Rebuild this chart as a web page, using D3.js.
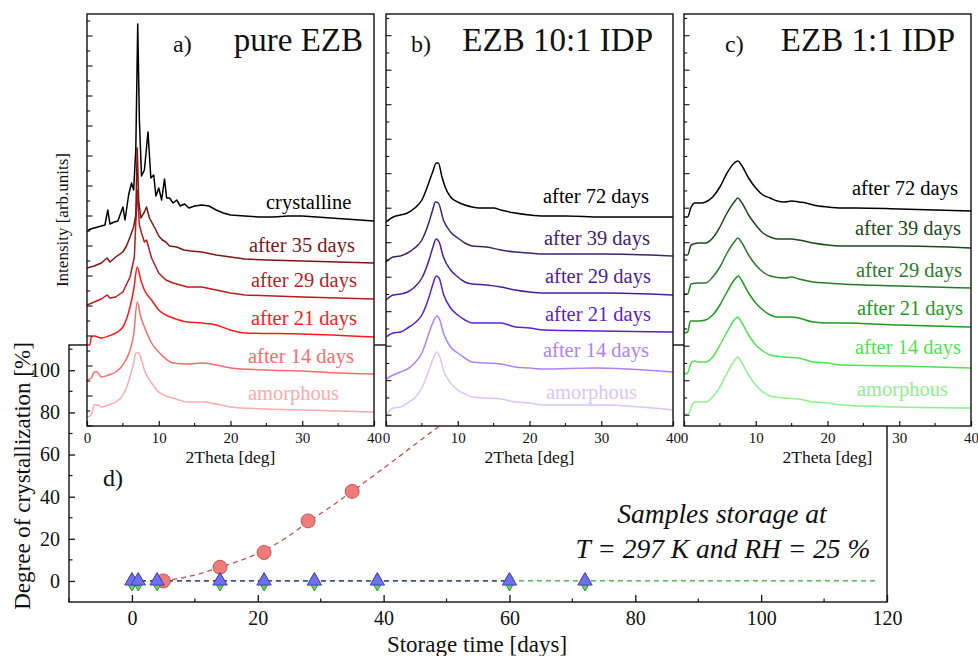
<!DOCTYPE html>
<html>
<head>
<meta charset="utf-8">
<script src="https://cdn.jsdelivr.net/npm/d3@7/dist/d3.min.js"></script>
<style>
  html, body { margin: 0; padding: 0; background: #fff; }
  svg { display: block; }
  svg text { font-family: "Liberation Serif", "Times New Roman", serif; }
</style>
</head>
<body>
<svg id="chart" width="978" height="656"></svg>
<script>
// ---------- XRD patterns: [2theta (deg), intensity (arb. units, stacked)] ----------
const twoThetaTicks = [0, 10, 20, 30, 40];

// a) pure EZB
const ezbCrystalline = [[0,195],[0.5,197],[1,198],[1.5,199],[2,200],[2.5,201],[2.9,216],[3.2,202],[3.8,204],[4.3,205],[4.6,211],[5.0,219],[5.3,206],[5.8,231],[6.2,243],[6.5,236],[6.8,276],[7.07,402],[7.3,306],[7.6,250],[8.0,256],[8.5,294],[8.9,248],[9.3,251],[9.6,230],[10.0,238],[10.4,226],[10.8,247],[11.1,228],[11.5,228],[12,223],[12.5,226],[13,220],[13.6,222],[14.2,218],[15,220],[16,221],[17,220],[18,216],[19,213],[20,211],[22,210],[24,209],[26,209],[28,210],[30,210],[32,209],[34,208],[36,207],[38,206],[40,205]];
const ezb35 = [[0,158],[1,160],[2,163],[2.8,168],[3.2,164],[4,169],[5,174],[5.5,180],[6,189],[6.5,199],[6.8,211],[7.0,278],[7.2,226],[7.5,208],[8.0,214],[8.3,219],[8.7,208],[9.0,204],[9.6,196],[10.0,190],[10.5,186],[11.0,184],[11.5,180],[12.5,179],[13.5,176],[14.5,175],[16,174],[18,171],[20,169],[22,167],[25,166],[30,165],[35,164],[40,163]];
const ezb29 = [[0,121],[1,124],[2,127],[2.8,131],[3.2,128],[4,129],[5,134],[6,149],[6.6,169],[7.0,236],[7.3,201],[7.6,193],[8.0,184],[8.3,186],[9,168],[10,153],[11,146],[12,143],[14,139],[16,139],[18,136],[20,133],[22,131],[30,129],[40,127]];
const ezb21 = [[0,81],[0.4,81],[0.6,89],[1,90],[2,88],[3,90],[4,93],[5,99],[6,119],[6.5,136],[7.0,159],[7.5,146],[8,136],[9,126],[10,116],[11,111],[12,108],[14,104],[16,103],[18,101],[20,96],[22,93],[30,92],[40,89]];
const ezb14 = [[0,46],[0.6,48],[1.0,54],[1.4,54],[2,49],[3,51],[4,54],[5,61],[6,76],[6.5,91],[7.0,124],[7.5,109],[8,99],[9,83],[10,74],[12,63],[14,62],[16,63],[18,61],[20,58],[25,56],[30,55],[35,53],[40,52]];
const ezbAmorphous = [[0,9],[0.6,11],[1.0,21],[1.5,21],[2,19],[3,21],[4,24],[5,31],[6,49],[6.5,63],[6.8,73],[7.2,73],[7.6,66],[8,56],[9,43],[10,34],[11,30],[12,28],[14,24],[16,24],[18,22],[20,19],[25,17],[30,16],[35,15],[40,14]];

// b) EZB 10:1 IDP
const idp10d72 = [[0,204],[1,209],[2,211],[3,213],[4,218],[5,226],[6,244],[6.5,254],[7.0,263],[7.3,263],[7.8,249],[8.3,238],[9,229],[10,224],[11,221],[12,219],[13,218],[15,218],[16,216],[18,213],[20,211],[22,210],[25,210],[30,209],[35,209],[40,209]];
const idp10d39 = [[0,164],[1,169],[2,170],[3,173],[4,178],[5,186],[6,204],[6.5,216],[6.9,224],[7.3,223],[8,206],[9,194],[10,188],[11,183],[12,180],[14,179],[16,176],[18,174],[20,173],[22,172],[30,172],[40,170]];
const idp10d29 = [[0,126],[1,131],[2,132],[3,134],[4,139],[5,148],[6,166],[6.5,178],[7.0,187],[7.4,184],[8,169],[9,156],[10,149],[11,144],[12,142],[14,141],[16,139],[18,136],[20,134],[22,133],[30,133],[40,131]];
const idp10d21 = [[0,89],[1,93],[2,94],[3,98],[4,103],[5,111],[6,129],[6.5,141],[7.0,150],[7.4,148],[8,132],[9,118],[10,111],[11,106],[12,103],[14,103],[16,103],[18,99],[20,98],[22,96],[30,95],[40,94]];
const idp10d14 = [[0,47],[1,51],[2,54],[3,57],[4,63],[5,73],[6,93],[6.5,103],[7.1,110],[7.5,106],[8,93],[9,79],[10,73],[11,68],[12,64],[14,63],[16,62],[18,59],[20,58],[22,57],[29,58],[40,54]];
const idp10Amorphous = [[0,11],[1,18],[2,19],[3,23],[4,28],[5,38],[6,56],[6.5,66],[7.1,74],[7.5,69],[8,56],[9,43],[10,36],[11,32],[12,29],[14,28],[16,27],[18,24],[20,23],[22,21],[30,21],[40,16]];

// c) EZB 1:1 IDP
const idp1d72 = [[0,209],[0.5,209],[1,219],[1.5,223],[2,223],[2.5,223],[3,224],[4,229],[5,239],[6,253],[7,263],[7.5,265],[8,261],[9,248],[10,238],[11,231],[12,228],[13,225],[14,224],[15,225],[16,224],[17,223],[18,221],[20,219],[22,218],[24,218],[30,217],[40,215]];
const idp1d39 = [[0,171],[0.5,171],[1,181],[2,183],[3,183],[4,188],[5,199],[6,213],[7,224],[7.5,228],[8,224],[9,211],[10,201],[11,193],[12,189],[13,187],[15,187],[16,186],[18,183],[20,181],[22,180],[30,180],[40,178]];
const idp1d29 = [[0,132],[0.5,132],[1,142],[2,143],[3,143],[4,149],[5,159],[6,173],[7,184],[7.5,188],[8,184],[9,171],[10,161],[11,154],[12,150],[14,148],[15,149],[16,147],[18,144],[20,143],[22,142],[30,140],[40,138]];
const idp1d21 = [[0,93],[0.5,94],[0.9,105],[2,105],[3,106],[4,111],[5,121],[6,134],[7,146],[7.6,150],[8,146],[9,133],[10,123],[11,116],[12,111],[13,109],[15,109],[16,108],[18,104],[20,103],[22,103],[30,101],[40,99]];
const idp1d14 = [[0,52],[0.5,53],[1,63],[1.5,65],[2,64],[3,64],[4,69],[5,81],[6,94],[7,106],[7.5,109],[8,104],[9,91],[10,81],[11,75],[12,71],[14,69],[16,68],[18,64],[20,63],[22,61],[30,60],[40,58]];
const idp1Amorphous = [[0,11],[0.7,13],[1,19],[1.5,24],[2,24],[3,24],[4,29],[5,39],[6,53],[7,65],[7.5,69],[8,64],[9,51],[10,41],[11,34],[12,30],[14,28],[16,27],[18,24],[20,23],[22,21],[30,19],[40,18]];

// ---------- d) degree of crystallization vs storage time ----------
const daysTicks = [0, 20, 40, 60, 80, 100, 120];
const crystTicks = [0, 20, 40, 60, 80, 100];
const daysEZB = [5, 14, 21, 28, 35];
const crystEZB = [0, 6.5, 13.5, 28.5, 42.5];
const daysIDP = [0, 1, 4, 14, 21, 29, 39, 60, 72];
const cryst10IDP = [0, 0, 0, 0, 0, 0, 0, 0, 0];
const cryst1IDP = [0, 0, 0, 0, 0, 0, 0, 0, 0];
// fitted trend lines
const fitEZBDays = [5, 8, 11, 14, 17.5, 21, 24.5, 28, 31.5, 35, 38.5, 42, 45.5, 49, 52.5, 56, 60];
const fitEZB = [0, 1.5, 3.6, 6.5, 10, 14.5, 20.5, 28, 35, 42.5, 50.2, 58, 66, 73.8, 81.5, 89.5, 98];
const fit10Days = [0, 60];
const fit10 = [0, 0];
const fit1Days = [0, 118.5];
const fit1 = [0, 0];

// ---------- layout ----------
const FONT = '"Liberation Serif", "Times New Roman", serif';
const svg = d3.select("#chart").attr("font-family", FONT);

svg.append("rect").attr("width", 978).attr("height", 656).attr("fill", "#fff");

// ===== panel d (drawn first, the XRD panels sit on top of it) =====
const dBox = { left: 69, right: 887, top: 345, bottom: 602 };
const xD = d3.scaleLinear().domain([-10, 120]).range([dBox.left, dBox.right]);
const yD = d3.scaleLinear().domain([-10, 112]).range([dBox.bottom, dBox.top]);

const gD = svg.append("g");
gD.append("clipPath").attr("id", "clipD").append("rect")
  .attr("x", dBox.left).attr("y", dBox.top)
  .attr("width", dBox.right - dBox.left).attr("height", dBox.bottom - dBox.top);

gD.append("rect")
  .attr("x", dBox.left).attr("y", dBox.top)
  .attr("width", dBox.right - dBox.left).attr("height", dBox.bottom - dBox.top)
  .attr("fill", "none").attr("stroke", "#111").attr("stroke-width", 1.4);

// x axis (ticks inside)
const xAxisD = d3.axisBottom(xD).tickValues(daysTicks).tickSize(-7).tickPadding(9).tickFormat(d3.format("d"));
const gxD = gD.append("g").attr("transform", `translate(0,${dBox.bottom})`).call(xAxisD);
gxD.attr("font-family", FONT);
gxD.select(".domain").remove();
gxD.selectAll("line").attr("stroke", "#111").attr("stroke-width", 1.3);
gxD.selectAll("text").attr("font-family", FONT).attr("font-size", 20).attr("fill", "#111");
gD.append("g").selectAll("line").data(d3.range(-10, 121, 20)).join("line")
  .attr("x1", d => xD(d)).attr("x2", d => xD(d))
  .attr("y1", dBox.bottom).attr("y2", dBox.bottom - 3.5)
  .attr("stroke", "#111").attr("stroke-width", 1.2);

// y axis (ticks inside)
const yAxisD = d3.axisLeft(yD).tickValues(crystTicks).tickSize(-6).tickPadding(9).tickFormat(d3.format("d"));
const gyD = gD.append("g").attr("transform", `translate(${dBox.left},0)`).call(yAxisD);
gyD.attr("font-family", FONT);
gyD.select(".domain").remove();
gyD.selectAll("line").attr("stroke", "#111").attr("stroke-width", 1.3);
gyD.selectAll("text").attr("font-family", FONT).attr("font-size", 20).attr("fill", "#111");
gD.append("g").selectAll("line").data(d3.range(10, 112, 20)).join("line")
  .attr("x1", dBox.left).attr("x2", dBox.left + 3.5)
  .attr("y1", d => yD(d)).attr("y2", d => yD(d))
  .attr("stroke", "#111").attr("stroke-width", 1.2);

gD.append("text").attr("x", 477).attr("y", 652)
  .attr("text-anchor", "middle").attr("font-size", 23).attr("fill", "#111")
  .text("Storage time [days]");
gD.append("text").attr("transform", "translate(30,476) rotate(-90)")
  .attr("text-anchor", "middle").attr("font-size", 23).attr("fill", "#111")
  .text("Degree of crystallization [%]");
gD.append("text").attr("x", 103).attr("y", 486).attr("font-size", 24).attr("fill", "#111").text("d)");

const noteG = gD.append("g").attr("font-style", "italic").attr("font-size", 27.5)
  .attr("text-anchor", "middle").attr("fill", "#111");
noteG.append("text").attr("x", 722).attr("y", 523).text("Samples storage at");
noteG.append("text").attr("x", 723).attr("y", 558).text("T = 297 K and RH = 25 %");

// trend lines
const lineD = d3.line().x(d => xD(d[0])).y(d => yD(d[1]));
const plotD = gD.append("g").attr("clip-path", "url(#clipD)");
plotD.append("path").datum(d3.zip(fit1Days, fit1)).attr("d", lineD)
  .attr("fill", "none").attr("stroke", "#3d9a3d").attr("stroke-width", 1.3).attr("stroke-dasharray", "5,4");
plotD.append("path").datum(d3.zip(fit10Days, fit10)).attr("d", lineD)
  .attr("fill", "none").attr("stroke", "#34348a").attr("stroke-width", 1.3).attr("stroke-dasharray", "5,4");
plotD.append("path").datum(d3.zip(fitEZBDays, fitEZB)).attr("d", lineD.curve(d3.curveMonotoneX))
  .attr("fill", "none").attr("stroke", "#b85450").attr("stroke-width", 1.3).attr("stroke-dasharray", "5,4");

// markers
plotD.append("g").selectAll("circle").data(d3.zip(daysEZB, crystEZB)).join("circle")
  .attr("cx", d => xD(d[0])).attr("cy", d => yD(d[1])).attr("r", 7)
  .attr("fill", "#f07b7b").attr("stroke", "#c24a4a").attr("stroke-width", 0.9);
plotD.append("g").selectAll("path").data(d3.zip(daysIDP, cryst1IDP)).join("path")
  .attr("transform", d => `translate(${xD(d[0])},${yD(d[1]) + 1})`)
  .attr("d", d3.symbol().type(d3.symbolDiamond).size(95))
  .attr("fill", "#5fd65f").attr("stroke", "#2e8b2e").attr("stroke-width", 0.9);
plotD.append("g").selectAll("path").data(d3.zip(daysIDP, cryst10IDP)).join("path")
  .attr("transform", d => `translate(${xD(d[0])},${yD(d[1])})`)
  .attr("d", d3.symbol().type(d3.symbolTriangle).size(90))
  .attr("fill", "#7070ec").attr("stroke", "#3a3aa8").attr("stroke-width", 0.9);

// ===== XRD panels a), b), c) =====
const panels = [
  {
    left: 87, tag: "a)", tagX: 173, title: "pure EZB", titleRight: 363,
    tickStart: 0, tickStep: 15,
    series: [
      { name: "crystalline", color: "#000000", data: ezbCrystalline, curve: d3.curveLinear, lx: 266, ly: 209 },
      { name: "after 35 days", color: "#7e1616", data: ezb35, curve: d3.curveLinear, lx: 249, ly: 252 },
      { name: "after 29 days", color: "#b51c1c", data: ezb29, curve: d3.curveLinear, lx: 251, ly: 287 },
      { name: "after 21 days", color: "#ff1a1a", data: ezb21, curve: d3.curveMonotoneX, lx: 251, ly: 325 },
      { name: "after 14 days", color: "#ff6a6a", data: ezb14, curve: d3.curveMonotoneX, lx: 248, ly: 363 },
      { name: "amorphous", color: "#ffaaaa", data: ezbAmorphous, curve: d3.curveMonotoneX, lx: 248, ly: 400 }
    ]
  },
  {
    left: 386, tag: "b)", tagX: 411, title: "EZB 10:1 IDP", titleRight: 653,
    tickStart: 10.8, tickStep: 17.25,
    series: [
      { name: "after 72 days", color: "#000000", data: idp10d72, curve: d3.curveMonotoneX, lx: 543, ly: 203 },
      { name: "after 39 days", color: "#3b2468", data: idp10d39, curve: d3.curveMonotoneX, lx: 544, ly: 245 },
      { name: "after 29 days", color: "#4a1d9e", data: idp10d29, curve: d3.curveMonotoneX, lx: 545, ly: 283 },
      { name: "after 21 days", color: "#5b22cf", data: idp10d21, curve: d3.curveMonotoneX, lx: 545, ly: 321 },
      { name: "after 14 days", color: "#ad82fa", data: idp10d14, curve: d3.curveMonotoneX, lx: 543, ly: 357 },
      { name: "amorphous", color: "#dac5fb", data: idp10Amorphous, curve: d3.curveMonotoneX, lx: 546, ly: 399 }
    ]
  },
  {
    left: 684, tag: "c)", tagX: 725, title: "EZB 1:1 IDP", titleRight: 955,
    tickStart: 10.8, tickStep: 17.25,
    series: [
      { name: "after 72 days", color: "#000000", data: idp1d72, curve: d3.curveMonotoneX, lx: 852, ly: 195 },
      { name: "after 39 days", color: "#1c4a1c", data: idp1d39, curve: d3.curveMonotoneX, lx: 855, ly: 235 },
      { name: "after 29 days", color: "#2b7a2b", data: idp1d29, curve: d3.curveMonotoneX, lx: 856, ly: 277 },
      { name: "after 21 days", color: "#1b9c1b", data: idp1d21, curve: d3.curveMonotoneX, lx: 857, ly: 315 },
      { name: "after 14 days", color: "#4ee44e", data: idp1d14, curve: d3.curveMonotoneX, lx: 855, ly: 354 },
      { name: "amorphous", color: "#8ef08e", data: idp1Amorphous, curve: d3.curveMonotoneX, lx: 857, ly: 396 }
    ]
  }
];

const PW = 287, PTOP = 14, PBOT = 426;

panels.forEach((p, i) => {
  const g = svg.append("g");
  const x = d3.scaleLinear().domain([0, 40]).range([p.left, p.left + PW]);
  const y = d3.scaleLinear().domain([0, PBOT - PTOP]).range([PBOT, PTOP]);

  g.append("rect").attr("x", p.left).attr("y", PTOP).attr("width", PW).attr("height", PBOT - PTOP)
    .attr("fill", "#fff");

  const clipId = "clipP" + i;
  g.append("clipPath").attr("id", clipId).append("rect")
    .attr("x", p.left).attr("y", PTOP).attr("width", PW).attr("height", PBOT - PTOP);

  const curves = g.append("g").attr("clip-path", `url(#${clipId})`);
  // draw bottom curves first so upper patterns overlay them
  p.series.slice().reverse().forEach(s => {
    curves.append("path").datum(s.data)
      .attr("d", d3.line().x(d => x(d[0])).y(d => y(d[1])).curve(s.curve))
      .attr("fill", "none").attr("stroke", s.color).attr("stroke-width", 1.5)
      .attr("stroke-linejoin", "round");
  });

  p.series.forEach(s => {
    g.append("text").attr("x", s.lx).attr("y", s.ly).attr("font-size", 20.5)
      .attr("font-family", FONT).attr("fill", s.color).text(s.name);
  });

  // x axis with inward ticks
  const gx = g.append("g").attr("transform", `translate(0,${PBOT})`)
    .call(d3.axisBottom(x).tickValues(twoThetaTicks).tickSize(-5).tickPadding(6).tickFormat(d3.format("d")));
  gx.attr("font-family", FONT);
  gx.select(".domain").remove();
  gx.selectAll("line").attr("stroke", "#111").attr("stroke-width", 1.2);
  gx.selectAll("text").attr("font-family", FONT).attr("font-size", 15).attr("fill", "#111");
  g.append("g").selectAll("line").data(d3.range(5, 40, 10)).join("line")
    .attr("x1", d => x(d)).attr("x2", d => x(d)).attr("y1", PBOT).attr("y2", PBOT - 3)
    .attr("stroke", "#111").attr("stroke-width", 1.1);

  // y axis: unlabeled inward ticks, alternating major / minor
  const yTicks = d3.range(p.tickStart, PBOT - PTOP, p.tickStep);
  g.append("g").selectAll("line").data(yTicks).join("line")
    .attr("x1", p.left).attr("x2", (d, k) => p.left + (k % 2 === 0 ? 5.5 : 3.2))
    .attr("y1", d => y(d)).attr("y2", d => y(d))
    .attr("stroke", "#111").attr("stroke-width", 1.1);

  g.append("rect").attr("x", p.left).attr("y", PTOP).attr("width", PW).attr("height", PBOT - PTOP)
    .attr("fill", "none").attr("stroke", "#111").attr("stroke-width", 1.4);

  g.append("text").attr("x", p.left + PW / 2).attr("y", 463).attr("text-anchor", "middle")
    .attr("font-size", 17.5).attr("fill", "#111").text("2Theta [deg]");

  g.append("text").attr("x", p.tagX).attr("y", 52).attr("font-size", 24).attr("fill", "#111").text(p.tag);
  g.append("text").attr("x", p.titleRight).attr("y", 51).attr("text-anchor", "end")
    .attr("font-size", 33).attr("fill", "#111").text(p.title);
});

svg.append("text").attr("transform", "translate(68,220) rotate(-90)")
  .attr("text-anchor", "middle").attr("font-size", 17).attr("fill", "#111")
  .text("Intensity [arb.units]");
</script>
</body>
</html>
